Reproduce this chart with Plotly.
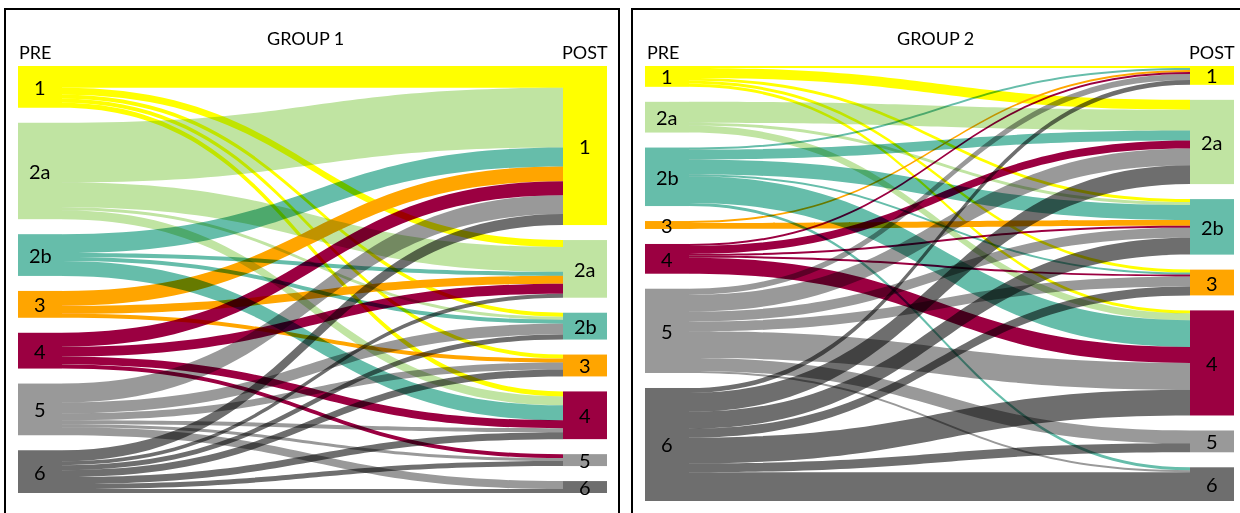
import plotly.graph_objects as go

# categories (same for PRE and POST)
categorias = ["1", "2a", "2b", "3", "4", "5", "6"]
colores = ["#FFFF00", "#C0E4A2", "#66BDAA", "#FFA500", "#9B0041", "#999999", "#6E6E6E"]

# flujos PRE (filas) -> POST (columnas)
flujos_g1 = [
    [22, 7, 4, 4, 5, 0, 0],
    [60, 25, 3, 0, 9, 0, 0],
    [19, 4, 4, 0, 15, 0, 0],
    [15, 8, 0, 4, 0, 0, 0],
    [14, 10, 0, 0, 8, 4, 0],
    [19, 0, 11, 7, 4, 3, 8],
    [11, 4, 5, 7, 7, 5, 4],
]
flujos_g2 = [
    [2, 10, 3, 3, 3, 0, 0],
    [0, 21, 3, 0, 7, 0, 0],
    [2, 10, 15, 2, 27, 0, 3],
    [2, 0, 6, 0, 0, 0, 0],
    [2, 8, 2, 2, 16, 0, 0],
    [6, 17, 10, 10, 27, 13, 2],
    [5, 19, 17, 9, 26, 9, 29],
]
titulos = ["GROUP 1", "GROUP 2"]

W, H = 1240, 513
GROSOR = 44
PAD = 15
FUENTE = "Lato"


def centros(totales, alto, total):
    ky = (alto - (len(totales) - 1) * PAD) / total
    ys, acum = [], 0
    for t in totales:
        ys.append((acum + t * ky / 2) / alto)
        acum += t * ky + PAD
    return ys


def texto(x, y, t, size):
    return dict(x=x / W, y=1 - y / H, xref="paper", yref="paper", text=t,
                showarrow=False, xanchor="center", yanchor="middle",
                font=dict(family=FUENTE, size=size, color="black"))


def generar_sankey(flujos, x0, x1, y0, y1):
    n = len(categorias)
    ancho, alto = x1 - x0, y1 - y0
    src, tgt, val, col = [], [], [], []
    for i, fila in enumerate(flujos):
        for j, v in enumerate(fila):
            if v > 0:
                src.append(i)
                tgt.append(n + j)
                val.append(v)
                col.append(colores[i])
    tot_pre = [sum(f) for f in flujos]
    tot_post = [sum(f[j] for f in flujos) for j in range(n)]
    total = sum(tot_pre)
    ys = centros(tot_pre, alto, total) + centros(tot_post, alto, total)
    xs = [GROSOR / 2 / ancho] * n + [1 - GROSOR / 2 / ancho] * n

    traza = go.Sankey(
        arrangement="fixed",
        domain=dict(x=[x0 / W, x1 / W], y=[1 - y1 / H, 1 - y0 / H]),
        node=dict(label=[""] * (2 * n), x=xs, y=ys, pad=PAD, thickness=GROSOR,
                  color=colores * 2, line=dict(width=0)),
        link=dict(source=src, target=tgt, value=val, color=col),
    )
    anot = [texto(x0 + xs[k] * ancho, y0 + ys[k] * alto, categorias[k % n], 20)
            for k in range(2 * n)]
    return traza, anot


t1, a1 = generar_sankey(flujos_g1, 18, 607, 66, 493)
t2, a2 = generar_sankey(flujos_g2, 645, 1234, 66, 501)

fig = go.Figure([t1, t2])

anotaciones = a1 + a2
for titulo, cx, pre_x, post_x in [(titulos[0], 305, 35, 585), (titulos[1], 935, 663, 1212)]:
    anotaciones.append(texto(cx, 38, titulo, 18))
    anotaciones.append(texto(pre_x, 52, "PRE", 18))
    anotaciones.append(texto(post_x, 52, "POST", 18))

marcos = [
    dict(type="rect", xref="paper", yref="paper", x0=5 / W, x1=619 / W, y0=-0.05, y1=1 - 9 / H,
         line=dict(color="black", width=2)),
    dict(type="rect", xref="paper", yref="paper", x0=632 / W, x1=1.05, y0=-0.05, y1=1 - 9 / H,
         line=dict(color="black", width=2)),
]

fig.update_layout(
    width=W, height=H,
    margin=dict(l=0, r=0, t=0, b=0),
    paper_bgcolor="white",
    annotations=anotaciones,
    shapes=marcos,
    font=dict(family=FUENTE),
)

fig.write_html("out.html",
               config={"displayModeBar": False},
               post_script="var s=document.createElement('style');"
                           "s.innerHTML='body{margin:0}.sankey-link{mix-blend-mode:multiply}';"
                           "document.head.appendChild(s);")
